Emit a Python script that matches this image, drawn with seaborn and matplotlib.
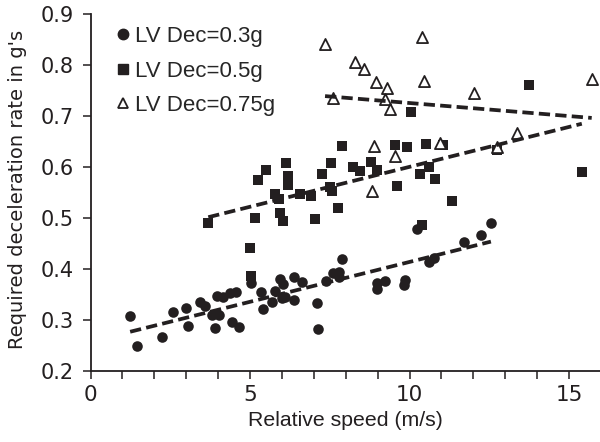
import numpy as np
import pandas as pd
import matplotlib
matplotlib.use("Agg")
import matplotlib.pyplot as plt
from matplotlib.ticker import MultipleLocator
from matplotlib.lines import Line2D
import seaborn as sns

# ---- data ----
lv03_speed = [1.24, 1.47, 2.25, 2.58, 2.99, 3.06, 3.43, 3.59, 3.80, 4.01, 3.96, 4.16,
              4.37, 4.55, 3.90, 4.43, 4.66, 5.04, 5.35, 5.42, 5.68, 5.78, 5.94, 6.04,
              5.99, 6.10, 6.38, 6.38, 6.62, 7.11, 7.13, 7.37, 7.61, 7.80, 7.87, 7.80,
              8.97, 8.97, 9.23, 9.81, 9.86, 10.22, 10.62, 10.77, 11.72, 12.23, 12.55]
lv03_decel = [0.308, 0.250, 0.267, 0.315, 0.323, 0.289, 0.335, 0.328, 0.310, 0.310, 0.348, 0.345,
              0.352, 0.354, 0.285, 0.297, 0.286, 0.373, 0.354, 0.321, 0.336, 0.357, 0.380, 0.371,
              0.344, 0.346, 0.384, 0.339, 0.375, 0.334, 0.282, 0.376, 0.392, 0.395, 0.420, 0.384,
              0.373, 0.360, 0.377, 0.369, 0.378, 0.479, 0.414, 0.421, 0.452, 0.467, 0.491]

lv05_speed = [3.69, 5.00, 5.03, 5.16, 5.26, 5.50, 5.78, 5.92, 5.94, 6.04, 6.13, 6.18,
              6.18, 6.57, 6.91, 7.02, 7.25, 7.54, 7.51, 7.56, 7.77, 7.89, 8.24, 8.45,
              8.79, 8.97, 9.55, 9.93, 10.51, 11.04, 10.04, 13.75, 10.62, 10.33, 10.81, 9.62,
              11.32, 12.73, 15.40, 10.38]
lv05_decel = [0.490, 0.441, 0.386, 0.501, 0.575, 0.595, 0.547, 0.537, 0.509, 0.495, 0.607, 0.582,
              0.565, 0.547, 0.543, 0.499, 0.586, 0.608, 0.560, 0.552, 0.519, 0.641, 0.601, 0.593,
              0.610, 0.594, 0.643, 0.639, 0.645, 0.643, 0.708, 0.761, 0.601, 0.586, 0.577, 0.563,
              0.533, 0.633, 0.591, 0.486]

lv075_speed = [7.35, 8.29, 8.57, 8.95, 9.28, 7.61, 9.23, 9.39, 10.38, 10.45, 12.02, 15.71,
               8.87, 9.55, 10.96, 13.36, 12.73, 8.81]
lv075_decel = [0.841, 0.805, 0.793, 0.767, 0.754, 0.735, 0.733, 0.713, 0.855, 0.769, 0.745, 0.772,
               0.641, 0.622, 0.648, 0.666, 0.640, 0.552]

series_labels = ["LV Dec=0.3g", "LV Dec=0.5g", "LV Dec=0.75g"]
x_ticks = [0, 5, 10, 15]
y_ticks = [0.2, 0.3, 0.4, 0.5, 0.6, 0.7, 0.8, 0.9]

# ---- styling ----
sns.set_style("ticks")
plt.rcParams["font.family"] = ["DejaVu Sans"]
INK = "#231f20"

fig = plt.figure(figsize=(6, 4.42), dpi=100)
ax = fig.add_axes([0.151, 0.1606, 0.849, 0.8077])

dfs = [
    pd.DataFrame({"speed": lv03_speed, "decel": lv03_decel}),
    pd.DataFrame({"speed": lv05_speed, "decel": lv05_decel}),
    pd.DataFrame({"speed": lv075_speed, "decel": lv075_decel}),
]
markers = ["o", "s", "^"]
sizes = [58, 47, 64]
faces = [INK, INK, "white"]

for df, m, s, fc, lab in zip(dfs, markers, sizes, faces, series_labels):
    sns.scatterplot(data=df, x="speed", y="decel", marker=m, s=s, color=fc,
                    edgecolor=INK, linewidth=1.3 if fc == "white" else 0,
                    ax=ax, zorder=3, legend=False)

for df in dfs:
    sns.regplot(data=df, x="speed", y="decel", scatter=False, ci=None, truncate=True,
                ax=ax, color=INK,
                line_kws=dict(linestyle=(0, (3.0, 1.4)), linewidth=2.7, zorder=4))

ax.set_xlim(0, 15.97)
ax.set_ylim(0.2, 0.9)
ax.set_xticks(x_ticks)
ax.xaxis.set_minor_locator(MultipleLocator(1))
ax.set_yticks(y_ticks)
ax.set_yticklabels([f"{v:.1f}" for v in y_ticks])
sns.despine(ax=ax)
for sp in ["left", "bottom"]:
    ax.spines[sp].set_linewidth(1.3)
    ax.spines[sp].set_color(INK)
ax.tick_params(axis="both", which="both", direction="out", length=6, width=1.1,
               color=INK)
ax.tick_params(axis="x", which="major", labelsize=15.5, labelcolor=INK, pad=4)
ax.tick_params(axis="y", which="major", labelsize=15, labelcolor=INK, pad=6)

ax.set_xlabel("Relative speed (m/s)", fontsize=15.3, family="Liberation Sans",
              color=INK)
ax.xaxis.set_label_coords(0.5, -0.112)
ax.set_ylabel("Required deceleration rate in g's", fontsize=14, color=INK)
ax.yaxis.set_label_coords(-0.125, 0.51)

handles = [
    Line2D([], [], linestyle="none", marker="o", markersize=7.5, color=INK),
    Line2D([], [], linestyle="none", marker="s", markersize=6.5, color=INK),
    Line2D([], [], linestyle="none", marker="^", markersize=7.5, markerfacecolor="white",
           markeredgecolor=INK, markeredgewidth=1.3),
]
ax.legend(handles, series_labels, loc="upper left", bbox_to_anchor=(0.02, 0.997),
          frameon=False, borderpad=0, handlelength=1.0, handletextpad=0.05,
          labelspacing=0.6, prop={"family": "Liberation Sans", "size": 16})

fig.savefig("out.png", dpi=100)
